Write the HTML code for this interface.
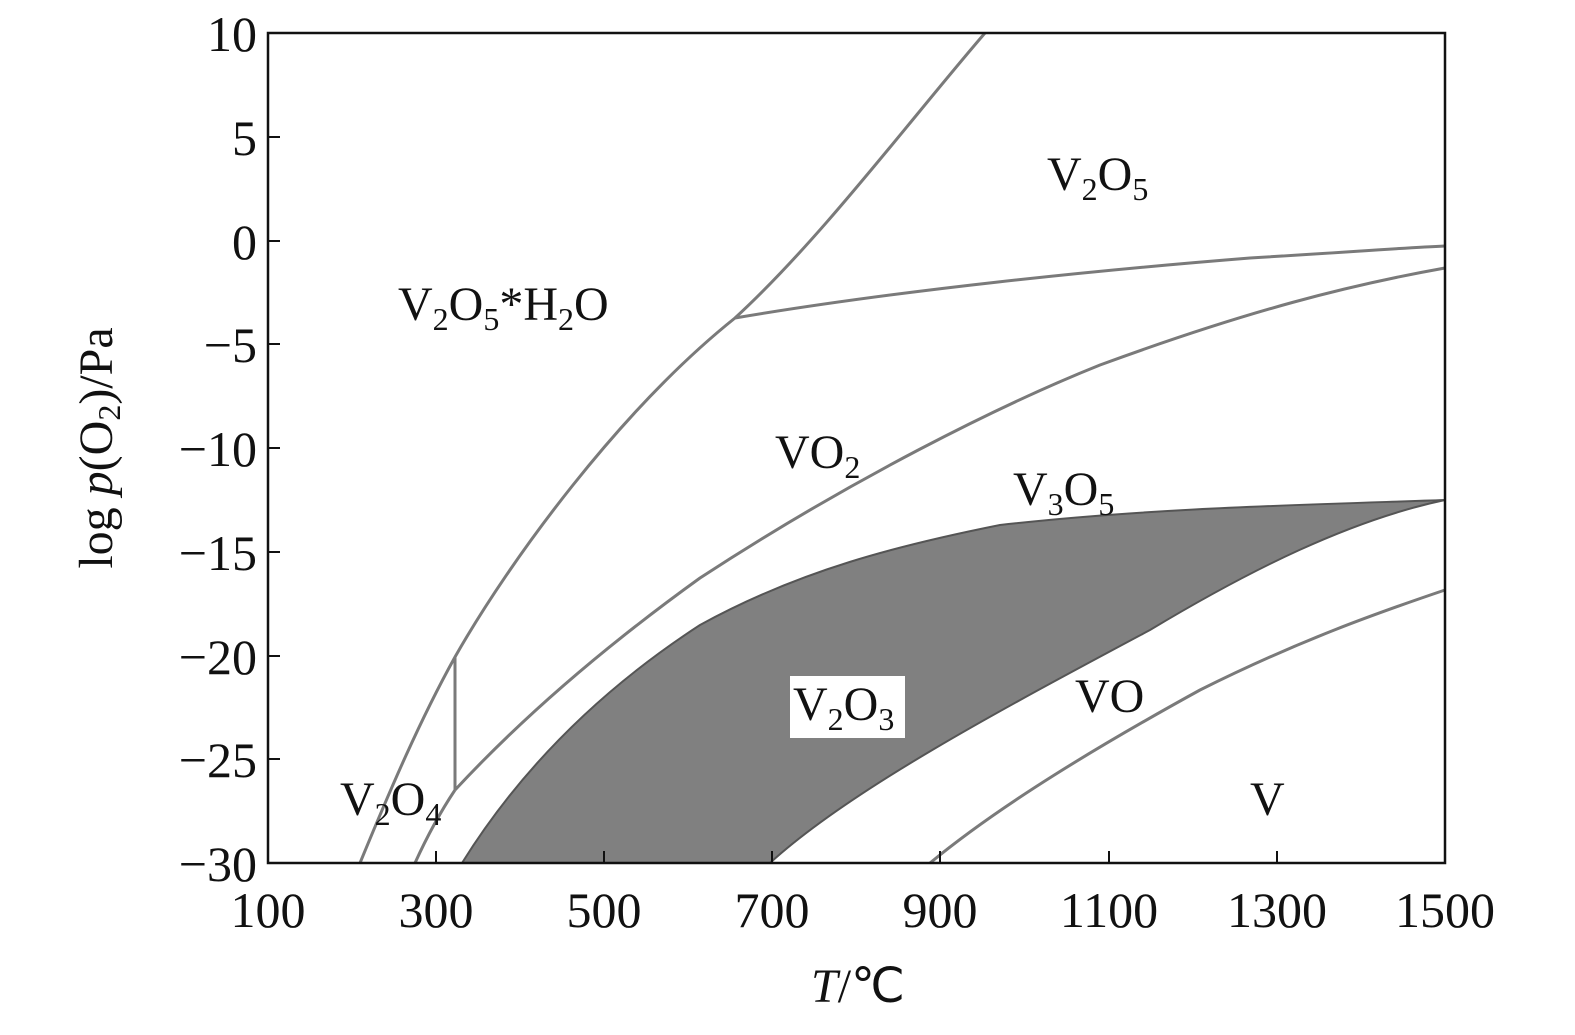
<!DOCTYPE html>
<html><head><meta charset="utf-8"><style>
html,body{margin:0;padding:0;background:#fff;}
svg text{font-family:"Liberation Serif",serif;fill:#111;}
</style></head><body>
<svg width="1575" height="1030" viewBox="0 0 1575 1030" xmlns="http://www.w3.org/2000/svg">
<rect width="1575" height="1030" fill="#fff"/>
<path d="M462,863 C520,770 600,690 700,625 C800,570 900,545 1000,525 C1150,508 1300,505 1445,500 C1350,520 1250,570 1150,630 C1000,710 850,790 770,863 Z" fill="#808080" stroke="#555" stroke-width="2"/>
<g fill="none" stroke="#7a7a7a" stroke-width="3">
<path d="M360,863 C390,790 420,720 455,657 C510,560 620,410 735,318 C820,240 910,120 985,33"/>
<path d="M415,863 C430,830 445,805 455,790"/>
<path d="M455,657 L455,790"/>
<path d="M455,790 C520,720 600,650 700,578 C850,480 1000,405 1100,365 C1250,310 1350,285 1445,268"/>
<path d="M735,318 C900,290 1100,270 1250,258 C1350,252 1400,248 1445,246"/>
<path d="M930,863 C1000,805 1100,745 1200,690 C1300,640 1380,612 1445,590"/>
</g>
<rect x="268" y="33" width="1177" height="830" fill="none" stroke="#111" stroke-width="2.5"/>
<g stroke="#111" stroke-width="2">
<line x1="268" y1="137" x2="280" y2="137"/><line x1="268" y1="241" x2="280" y2="241"/>
<line x1="268" y1="344" x2="280" y2="344"/><line x1="268" y1="448" x2="280" y2="448"/>
<line x1="268" y1="552" x2="280" y2="552"/><line x1="268" y1="656" x2="280" y2="656"/>
<line x1="268" y1="759" x2="280" y2="759"/>
<line x1="436" y1="863" x2="436" y2="851"/><line x1="604" y1="863" x2="604" y2="851"/>
<line x1="772" y1="863" x2="772" y2="851"/><line x1="940" y1="863" x2="940" y2="851"/>
<line x1="1109" y1="863" x2="1109" y2="851"/><line x1="1277" y1="863" x2="1277" y2="851"/>
</g>
<g font-size="50" text-anchor="end">
<text x="257" y="51">10</text><text x="257" y="155">5</text><text x="257" y="259">0</text>
<text x="257" y="362">−5</text><text x="257" y="466">−10</text><text x="257" y="570">−15</text>
<text x="257" y="674">−20</text><text x="257" y="777">−25</text><text x="257" y="881">−30</text>
</g>
<g font-size="50" text-anchor="middle">
<text x="268" y="927">100</text><text x="436" y="927">300</text><text x="604" y="927">500</text>
<text x="772" y="927">700</text><text x="940" y="927">900</text><text x="1109" y="927">1100</text>
<text x="1277" y="927">1300</text><text x="1445" y="927">1500</text>
</g>
<text x="858" y="1002" font-size="48" text-anchor="middle"><tspan font-style="italic">T</tspan>/℃</text>
<text transform="translate(112,448) rotate(-90)" font-size="48" text-anchor="middle">log <tspan font-style="italic">p</tspan>(O<tspan font-size="32" dy="8">2</tspan><tspan dy="-8">)/Pa</tspan></text>
<g font-size="48">
<text x="1047" y="190">V<tspan font-size="32" dy="10">2</tspan><tspan dy="-10">O</tspan><tspan font-size="32" dy="10">5</tspan></text>
<text x="398" y="320">V<tspan font-size="32" dy="10">2</tspan><tspan dy="-10">O</tspan><tspan font-size="32" dy="10">5</tspan><tspan dy="-10">*H</tspan><tspan font-size="32" dy="10">2</tspan><tspan dy="-10">O</tspan></text>
<text x="775" y="468">VO<tspan font-size="32" dy="10">2</tspan></text>
<text x="1013" y="505">V<tspan font-size="32" dy="10">3</tspan><tspan dy="-10">O</tspan><tspan font-size="32" dy="10">5</tspan></text>
<rect x="790" y="676" width="115" height="62" fill="#fff"/>
<text x="793" y="720">V<tspan font-size="32" dy="10">2</tspan><tspan dy="-10">O</tspan><tspan font-size="32" dy="10">3</tspan></text>
<text x="1075" y="712">VO</text>
<text x="1250" y="815">V</text>
<text x="340" y="815">V<tspan font-size="32" dy="10">2</tspan><tspan dy="-10">O</tspan><tspan font-size="32" dy="10">4</tspan></text>
</g>
</svg>
</body></html>
